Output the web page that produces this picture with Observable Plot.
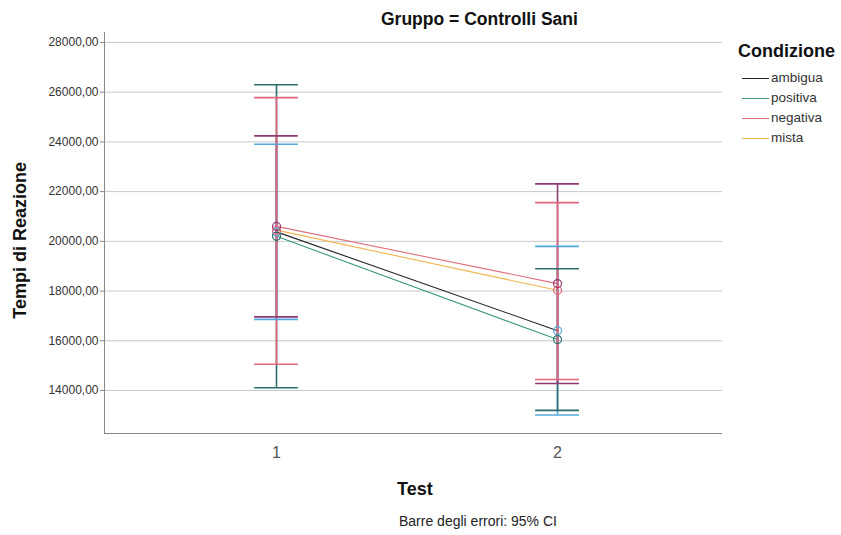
<!DOCTYPE html>
<html>
<head>
<meta charset="utf-8">
<script src="https://cdn.jsdelivr.net/npm/d3@7"></script>
<script src="https://cdn.jsdelivr.net/npm/@observablehq/plot@0.6"></script>
<style>
  body { margin: 0; background: #fff; font-family: "Liberation Sans", Arial, sans-serif; }
  #wrap { position: relative; width: 841px; height: 535px; }
  .lbl { position: absolute; white-space: nowrap; color: #222; line-height: 1.15; }
</style>
</head>
<body>
<div id="wrap"></div>
<script>
// ---- data ----
const conditions = ["ambigua", "positiva", "negativa", "mista"];
const tests = [1, 2];
const meanAmbigua = [20380, 16405];
const meanPositiva = [20200, 16050];
const meanNegativa = [20600, 18300];
const meanMista = [20450, 18030];
const lowAmbigua = [16860, 13012];
const highAmbigua = [23907, 19798];
const lowPositiva = [14109, 13202];
const highPositiva = [26300, 18895];
const lowNegativa = [16960, 14283];
const highNegativa = [24243, 22312];
const lowMista = [15057, 14445];
const highMista = [25780, 21555];
const yTicks = [14000, 16000, 18000, 20000, 22000, 24000, 26000, 28000];

const lineColors = ["#222222", "#3a9a7c", "#e07080", "#f0b44c"];
const barColors = ["#52a8dc", "#2c6e6c", "#8c3b70", "#e3677c"];

const means = [meanAmbigua, meanPositiva, meanNegativa, meanMista];
const lows = [lowAmbigua, lowPositiva, lowNegativa, lowMista];
const highs = [highAmbigua, highPositiva, highNegativa, highMista];

const rows = [];
conditions.forEach((c, i) => tests.forEach((t, j) => rows.push({
  cond: c, test: t, mean: means[i][j], low: lows[i][j], high: highs[i][j]
})));

const capHalf = 0.078; // cap half-width in x units
const colorLine = d3.scaleOrdinal(conditions, lineColors);
const colorBar = d3.scaleOrdinal(conditions, barColors);
const fmt = d => d3.format("d")(d) + ",00";

const chart = Plot.plot({
  width: 841,
  height: 535,
  marginLeft: 104,
  marginRight: 119,
  marginTop: 32,
  marginBottom: 102,
  style: { fontFamily: "Liberation Sans, Arial, sans-serif", background: "#fff" },
  x: { type: "linear", domain: [0.388, 2.587], ticks: tests, tickFormat: d => String(d), tickSize: 0, label: null },
  y: { domain: [12270, 28400], ticks: yTicks, tickFormat: fmt, tickSize: 4, label: null },
  marks: [
    Plot.gridY(yTicks, { stroke: "#c8c8c8", strokeOpacity: 1 }),
    Plot.axisY({ ticks: yTicks, tickFormat: fmt, tickSize: 4, tickPadding: 2, fontSize: 12, fill: "#333", stroke: "#888", label: null }),
    Plot.axisX({ ticks: tests, tickFormat: d => String(d), tickSize: 0, tickPadding: 13, fontSize: 16, fill: "#555", label: null }),
    Plot.ruleX([0.388], { stroke: "#888" }),
    Plot.ruleY([12270], { stroke: "#888" }),
    // connecting lines
    Plot.line(rows, { x: "test", y: "mean", z: "cond", stroke: d => colorLine(d.cond), strokeWidth: 1.1 }),
    // error bars
    Plot.ruleX(rows, { x: "test", y1: "low", y2: "high", stroke: d => colorBar(d.cond), strokeWidth: 1.6 }),
    Plot.ruleY(rows, { y: "high", x1: d => d.test - capHalf, x2: d => d.test + capHalf, stroke: d => colorBar(d.cond), strokeWidth: 1.6 }),
    Plot.ruleY(rows, { y: "low", x1: d => d.test - capHalf, x2: d => d.test + capHalf, stroke: d => colorBar(d.cond), strokeWidth: 1.6 }),
    // markers
    Plot.dot(rows, { x: "test", y: "mean", r: 4, stroke: d => colorBar(d.cond), strokeWidth: 1.2, fill: "none" })
  ]
});

const wrap = document.getElementById("wrap");
wrap.appendChild(chart);

function addLabel(text, css) {
  const el = document.createElement("div");
  el.className = "lbl";
  el.textContent = text;
  Object.assign(el.style, css);
  wrap.appendChild(el);
  return el;
}

// title
addLabel("Gruppo = Controlli Sani", { left: "381px", top: "9px", fontSize: "17.5px", fontWeight: "bold", color: "#111" });
// y axis title
addLabel("Tempi di Reazione", { left: "-70px", top: "230px", fontSize: "18px", fontWeight: "bold", color: "#111", transform: "rotate(-90deg)", transformOrigin: "center", width: "180px", textAlign: "center" });
// x axis title
addLabel("Test", { left: "397px", top: "479px", fontSize: "18px", fontWeight: "bold", color: "#111" });
// footnote
addLabel("Barre degli errori: 95% CI", { left: "399px", top: "513px", fontSize: "14px", color: "#222" });
// legend
addLabel("Condizione", { left: "738px", top: "41px", fontSize: "18px", fontWeight: "bold", color: "#111" });
conditions.forEach((c, i) => {
  const y = 78 + i * 20;
  const sw = document.createElement("div");
  Object.assign(sw.style, { position: "absolute", left: "742px", top: (y - 0.5) + "px", width: "27px", height: "1.3px", background: lineColors[i] });
  wrap.appendChild(sw);
  addLabel(c, { left: "771px", top: (y - 8) + "px", fontSize: "13.5px", color: "#333" });
});
</script>
</body>
</html>
